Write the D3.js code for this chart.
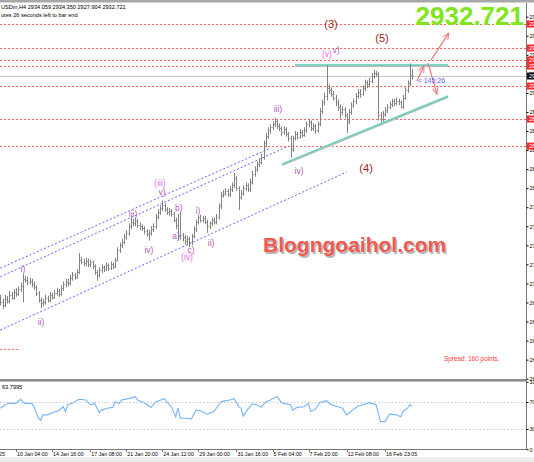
<!DOCTYPE html>
<html>
<head>
<meta charset="utf-8">
<script src="https://cdn.jsdelivr.net/npm/d3@7"></script>
<style>
body { margin: 0; background: #fff; }
svg { display: block; font-family: "Liberation Sans", Arial, sans-serif; }
</style>
</head>
<body>
<div id="chart"></div>
<script>
// H4 bars, oldest first
var opens = [2699,2696,2692,2699,2697,2703,2700,2706,2704,2709,
 2712,2720,2719,2716,2718,2714,2711,2705,2698,2694,
 2696,2700,2698,2703,2701,2705,2707,2704,2710,2714,
 2717,2715,2721,2724,2722,2727,2740,2738,2736,2739,
 2735,2737,2733,2727,2724,2729,2732,2730,2734,2731,
 2735,2733,2740,2750,2755,2759,2764,2768,2775,2780,
 2778,2781,2776,2775,2773,2770,2767,2768,2772,2775,
 2785,2790,2794,2797,2793,2790,2791,2788,2782,2776,
 2765,2766,2764,2760,2762,2758,2765,2772,2780,2785,
 2782,2784,2780,2775,2778,2782,2780,2785,2796,2808,
 2810,2812,2809,2814,2818,2826,2815,2806,2810,2815,
 2818,2814,2822,2830,2835,2840,2843,2848,2862,2870,
 2876,2879,2882,2885,2880,2878,2874,2877,2872,2868,
 2856,2868,2872,2869,2874,2871,2876,2882,2884,2878,
 2880,2876,2882,2896,2905,2912,2920,2918,2914,2910,
 2905,2900,2895,2898,2892,2885,2895,2902,2906,2912,
 2916,2914,2920,2926,2924,2928,2933,2936,2935,2892,
 2888,2893,2897,2900,2903,2906,2904,2907,2905,2900,
 2910,2918,2925,2934];
var highs = [2703,2699,2703,2702,2707,2706,2709,2710,2712,2716,
 2725,2723,2722,2721,2720,2717,2713,2707,2700,2699,
 2703,2702,2706,2705,2708,2710,2709,2713,2717,2720,
 2720,2724,2727,2726,2730,2747,2743,2741,2742,2741,
 2740,2739,2735,2729,2732,2735,2734,2737,2736,2738,
 2737,2742,2753,2758,2762,2767,2771,2778,2784,2783,
 2784,2783,2779,2777,2775,2772,2771,2775,2778,2788,
 2793,2797,2802,2799,2795,2794,2793,2790,2784,2788,
 2790,2768,2766,2765,2764,2767,2775,2782,2786,2787,
 2786,2786,2782,2780,2784,2784,2788,2799,2811,2813,
 2815,2814,2817,2821,2831,2828,2817,2813,2818,2821,
 2820,2825,2833,2838,2843,2846,2851,2865,2873,2879,
 2882,2885,2889,2887,2883,2880,2880,2879,2874,2870,
 2870,2875,2874,2877,2876,2879,2885,2888,2886,2883,
 2882,2885,2899,2908,2915,2944,2924,2921,2917,2913,
 2908,2903,2901,2900,2894,2898,2905,2909,2915,2919,
 2919,2923,2929,2928,2931,2936,2939,2938,2937,2895,
 2896,2900,2903,2906,2909,2909,2910,2909,2907,2913,
 2921,2928,2946,2940];
var lows = [2692,2688,2690,2694,2694,2698,2698,2701,2702,2706,
 2695,2716,2713,2714,2711,2708,2702,2695,2689,2691,
 2693,2695,2695,2698,2699,2702,2701,2702,2707,2711,
 2712,2713,2718,2719,2720,2725,2735,2733,2733,2732,
 2732,2730,2724,2718,2721,2726,2727,2728,2728,2729,
 2730,2731,2738,2747,2752,2756,2761,2765,2772,2775,
 2775,2773,2771,2770,2767,2764,2760,2765,2769,2772,
 2782,2787,2791,2790,2787,2786,2785,2779,2772,2760,
 2761,2759,2756,2755,2753,2755,2762,2769,2777,2779,
 2779,2777,2768,2772,2775,2777,2777,2782,2793,2805,
 2807,2806,2806,2811,2815,2812,2792,2803,2807,2812,
 2811,2811,2819,2827,2832,2837,2840,2845,2858,2867,
 2872,2876,2879,2877,2875,2870,2871,2869,2864,2847,
 2853,2865,2866,2867,2868,2869,2873,2879,2875,2875,
 2872,2873,2880,2893,2902,2907,2914,2911,2907,2901,
 2896,2888,2892,2889,2873,2882,2892,2899,2903,2909,
 2910,2912,2917,2920,2921,2925,2930,2932,2886,2884,
 2885,2890,2894,2898,2900,2901,2902,2902,2899,2898,
 2908,2915,2922,2929];
var closes = [2696,2692,2699,2697,2703,2700,2706,2704,2709,2712,
 2720,2719,2716,2718,2714,2711,2705,2698,2694,2696,
 2700,2698,2703,2701,2705,2707,2704,2710,2714,2717,
 2715,2721,2724,2722,2727,2740,2738,2736,2739,2735,
 2737,2733,2727,2724,2729,2732,2730,2734,2731,2735,
 2733,2740,2750,2755,2759,2764,2768,2775,2780,2778,
 2781,2776,2775,2773,2770,2767,2768,2772,2775,2785,
 2790,2794,2797,2793,2790,2791,2788,2782,2776,2765,
 2766,2764,2760,2762,2758,2765,2772,2780,2785,2782,
 2784,2780,2775,2778,2782,2780,2785,2796,2808,2810,
 2812,2809,2814,2818,2826,2815,2806,2810,2815,2818,
 2814,2822,2830,2835,2840,2843,2848,2862,2870,2876,
 2879,2882,2885,2880,2878,2874,2877,2872,2868,2856,
 2868,2872,2869,2874,2871,2876,2882,2884,2878,2880,
 2876,2882,2896,2905,2912,2920,2918,2914,2910,2905,
 2900,2895,2898,2892,2885,2895,2902,2906,2912,2916,
 2914,2920,2926,2924,2928,2933,2936,2935,2892,2888,
 2893,2897,2900,2903,2906,2904,2907,2905,2900,2910,
 2918,2925,2934,2932.721];

// RSI(14) read at selected bars
var rsiIdx = [0,2,4,7,9,10,11,14,15,17,18,19,21,23,26,28,29,30,32,35,38,40,42,44,45,48,50,51,53,54,
 57,60,61,64,67,69,73,74,76,78,79,80,82,85,87,89,92,95,98,100,102,104,106,107,108,110,112,114,116,118,
 120,123,125,126,129,130,132,135,137,138,140,142,145,147,150,152,154,157,159,161,164,167,169,171,173,176,178,179,181,182,183];
var rsiVals = [60.6,65.6,68,68,74,70.5,68,68,63,46,43,51,51,54,57,63,56,66,68,74,73,66,68,54,58,61,62,70,68,73,
 75,78,73,69,62,70,75,70,63,48,61,46,46,45,58,57,52,56,70,72,73,75,63,61,49,59,67,66,62,70,
 73,78,69,68,66,58,62,63,68,56,59,69,72,66,63,61,51,59,64,66,69,66,41,41,52,51,48,56,61,66,63.8];

// horizontal levels (price)
var levels = [2987.3, 2962.1, 2949.5, 2943.2, 2922.2, 2887.6, 2859.2];
var lastPrice = 2932.721;
var priceTicks = [2615,2635,2655,2675,2695,2715,2735,2755,2775,2795,2815,2835,2855,2875,2895,2915,2935,2955,2975,2995];

// time axis labels (bar index -> text)
var timeIdx = [-10, 7, 23, 40, 56, 72, 88, 105, 121, 137, 154, 171];
var timeText = ["8 Jan 2025","10 Jan 04:00","14 Jan 16:00","17 Jan 08:00","21 Jan 20:00","24 Jan 12:00",
 "29 Jan 00:00","31 Jan 16:00","5 Feb 04:00","7 Feb 20:00","12 Feb 08:00","16 Feb 23:05"];

// drawn objects: [idx0, price0, idx1, price1]
var channels = [[0, 2731, 120, 2857], [0, 2722, 127, 2858], [0, 2666, 154, 2832]];
var teal = [[125.2, 2840.3, 199, 2911.7], [131, 2944.3, 199, 2944.3]];
var arrows = [[185.2, 2927.5, 188.3, 2943.3], [191.4, 2949.5, 199.4, 2977.8], [190.1, 2946.4, 194.1, 2913.8]];

// wave counts: [idx, price, text, kind]
var waves = [
 [10.1, 2730, "i)", 0], [18.1, 2674.5, "ii)", 0], [59, 2787.8, "iii)", 0], [66.1, 2750, "iv)", 0],
 [71, 2820.4, "(iii)", 1], [71.9, 2810.9, "v)", 0], [79.4, 2794.1, "b)", 0], [78.1, 2764.7, "a)", 0],
 [84.8, 2750, "c)", 0], [83, 2742.7, "(iv)", 1], [87.9, 2791, "i)", 0], [93.7, 2757.4, "ii)", 0],
 [123.4, 2898.1, "iii)", 0], [132.8, 2833, "iv)", 0], [145.2, 2955.8, "(v)", 1], [149.2, 2960, "v)", 0],
 [147, 2987.3, "(3)", 2], [169.7, 2972.6, "(5)", 2], [162.6, 2836.1, "(4)", 2]
];
var waveColor = ["#b15bb3", "#e06ee0", "#992626"];

var W = 534, H = 462;
var plotR = 526;

var svg = d3.select("#chart").append("svg")
    .attr("width", W)
    .attr("height", H);

var x = d3.scaleLinear().domain([0, 183]).range([0.25, 0.25 + 183 * 2.25]);
var y = d3.scaleLinear().domain([2615, 2995]).range([378.7, 16.7]);
var yr = d3.scaleLinear().domain([0, 100]).range([449.25, 381.75]);

var defs = svg.append("defs");
defs.append("clipPath").attr("id", "clipMain")
    .append("rect").attr("x", 0).attr("y", 3).attr("width", plotR).attr("height", 376);
defs.append("clipPath").attr("id", "clipRsi")
    .append("rect").attr("x", 0).attr("y", 382).attr("width", plotR).attr("height", 67);
defs.append("marker").attr("id", "arr")
    .attr("viewBox", "0 0 10 10").attr("refX", 9).attr("refY", 5)
    .attr("markerWidth", 6).attr("markerHeight", 6).attr("orient", "auto")
    .append("path").attr("d", "M0,1 L9,5 L0,9").attr("fill", "none")
    .attr("stroke", "#ee7a78").attr("stroke-width", 1.4);

// frame
svg.append("rect").attr("x", 0).attr("y", 0).attr("width", W).attr("height", 2.5).attr("fill", "#a8a8a8");
svg.append("rect").attr("x", 0).attr("y", 379).attr("width", plotR + 1).attr("height", 2.6).attr("fill", "#8c8c8c");
svg.append("rect").attr("x", 0).attr("y", 457).attr("width", W).attr("height", 5).attr("fill", "#ececec");

var main = svg.append("g").attr("clip-path", "url(#clipMain)");

// support / resistance levels
main.selectAll(".lvl").data(levels).enter().append("line")
    .attr("x1", 0).attr("x2", plotR)
    .attr("y1", function (d) { return Math.round(y(d)) + 0.5; })
    .attr("y2", function (d) { return Math.round(y(d)) + 0.5; })
    .attr("stroke", "#ff6464").attr("stroke-dasharray", "2,2").attr("stroke-width", 1);
main.append("line")
    .attr("x1", x(0)).attr("x2", x(9))
    .attr("y1", Math.round(y(2646)) + 0.5).attr("y2", Math.round(y(2646)) + 0.5)
    .attr("stroke", "#ff6464").attr("stroke-dasharray", "2,2");

// bid line
main.append("line")
    .attr("x1", 0).attr("x2", plotR)
    .attr("y1", Math.round(y(lastPrice)) + 0.5).attr("y2", Math.round(y(lastPrice)) + 0.5)
    .attr("stroke", "#c8c8c8");

// channel lines
main.selectAll(".chan").data(channels).enter().append("line")
    .attr("x1", function (d) { return x(d[0]); })
    .attr("y1", function (d) { return y(d[1]); })
    .attr("x2", function (d) { return x(d[2]); })
    .attr("y2", function (d) { return y(d[3]); })
    .attr("stroke", "#6464ff").attr("stroke-dasharray", "2,2").attr("stroke-width", 1);

// trend lines
main.selectAll(".tealS").data(teal).enter().append("line")
    .attr("x1", function (d) { return x(d[0]); })
    .attr("y1", function (d) { return y(d[1]) + 0.8; })
    .attr("x2", function (d) { return x(d[2]); })
    .attr("y2", function (d) { return y(d[3]) + 0.8; })
    .attr("stroke", "#bdbdbd").attr("stroke-width", 2.4);
main.selectAll(".teal").data(teal).enter().append("line")
    .attr("x1", function (d) { return x(d[0]); })
    .attr("y1", function (d) { return y(d[1]); })
    .attr("x2", function (d) { return x(d[2]); })
    .attr("y2", function (d) { return y(d[3]); })
    .attr("stroke", "#66d3bf").attr("stroke-width", 1.5);

// OHLC bars
var bars = main.append("g").attr("stroke", "#828282").attr("stroke-width", 1);
closes.forEach(function (c, i) {
    var bx = Math.round(x(i)) + 0.5;
    bars.append("line").attr("x1", bx).attr("x2", bx)
        .attr("y1", y(highs[i])).attr("y2", y(lows[i]));
    bars.append("line").attr("x1", bx - 1).attr("x2", bx)
        .attr("y1", Math.round(y(opens[i])) + 0.5).attr("y2", Math.round(y(opens[i])) + 0.5);
    bars.append("line").attr("x1", bx).attr("x2", bx + 1)
        .attr("y1", Math.round(y(c)) + 0.5).attr("y2", Math.round(y(c)) + 0.5);
});

// arrows
main.selectAll(".arr").data(arrows).enter().append("line")
    .attr("x1", function (d) { return x(d[0]); })
    .attr("y1", function (d) { return y(d[1]); })
    .attr("x2", function (d) { return x(d[2]); })
    .attr("y2", function (d) { return y(d[3]); })
    .attr("stroke", "#ee7a78").attr("stroke-width", 1.2)
    .attr("marker-end", "url(#arr)");

// wave labels
main.selectAll(".wave").data(waves).enter().append("text")
    .attr("x", function (d) { return x(d[0]); })
    .attr("y", function (d) { return y(d[1]); })
    .attr("dy", "0.35em")
    .attr("text-anchor", "middle")
    .style("font-size", function (d) { return d[3] === 2 ? "11px" : "8.5px"; })
    .style("fill", function (d) { return waveColor[d[3]]; })
    .text(function (d) { return d[2]; });

// bar countdown
main.append("text")
    .attr("x", x(185.5)).attr("y", y(2928.5)).attr("dy", "0.35em")
    .style("font-size", "7px").style("fill", "#5b5bff")
    .text("< 145:26");

// watermark
main.append("text").attr("x", 264.5).attr("y", 253.5)
    .style("font-size", "21px").style("font-weight", "bold").style("fill", "#9a9a9a").style("opacity", 0.7)
    .text("Blogngoaihol.com");
main.append("text").attr("x", 263).attr("y", 252)
    .style("font-size", "21px").style("font-weight", "bold").style("fill", "#f25a4f")
    .text("Blogngoaihol.com");

main.append("text").attr("x", 444).attr("y", 361)
    .style("font-size", "6.4px").style("fill", "#ff3b3b")
    .text("Spread: 160 points.");

// header
svg.append("text").attr("x", 1).attr("y", 9).style("font-size", "5.6px").style("fill", "#000")
    .text("USDm,H4  2934.059 2934.350 2927.904 2932.721");
svg.append("text").attr("x", 1).attr("y", 17).style("font-size", "5.6px").style("fill", "#000")
    .text("utes 26 seconds left to bar end");

svg.append("text").attr("x", 524).attr("y", 24.5).attr("text-anchor", "end")
    .style("font-size", "26px").style("font-weight", "bold").style("fill", "#7ee61a")
    .text(d3.format(".3f")(lastPrice));

// price axis
var yAxis = svg.append("g").attr("transform", "translate(" + (plotR + 0.5) + ",0)")
    .call(d3.axisRight(y).tickValues(priceTicks).tickSize(2).tickFormat(d3.format(".2f")));
yAxis.select(".domain").attr("stroke", "#777").attr("d", "M0,3V379");
yAxis.selectAll("text").style("font-size", "5.5px").attr("x", 3);

svg.selectAll(".lvlBox").data(levels).enter().append("rect")
    .attr("x", plotR + 1).attr("y", function (d) { return y(d) - 3.5; })
    .attr("width", 8).attr("height", 7).attr("fill", "#ff2a2a");
svg.selectAll(".lvlTxt").data(levels).enter().append("text")
    .attr("x", plotR + 3).attr("y", function (d) { return y(d); }).attr("dy", "0.35em")
    .style("font-size", "5.5px").style("fill", "#fff")
    .text(function (d) { return d3.format(".2f")(d); });
svg.append("rect").attr("x", plotR + 1).attr("y", y(lastPrice) - 3.5)
    .attr("width", 8).attr("height", 7).attr("fill", "#111");
svg.append("text").attr("x", plotR + 3).attr("y", y(lastPrice)).attr("dy", "0.35em")
    .style("font-size", "5.5px").style("fill", "#fff").text(d3.format(".2f")(lastPrice));

// RSI panel
var rsiG = svg.append("g").attr("clip-path", "url(#clipRsi)");
rsiG.selectAll(".rl").data([70, 30]).enter().append("line")
    .attr("x1", 0).attr("x2", plotR)
    .attr("y1", function (d) { return Math.round(yr(d)) + 0.5; })
    .attr("y2", function (d) { return Math.round(yr(d)) + 0.5; })
    .attr("stroke", "#c8c8c8").attr("stroke-dasharray", "1.5,2");
var rsiLine = d3.line()
    .x(function (d, k) { return x(rsiIdx[k]); })
    .y(function (d) { return yr(d); });
rsiG.append("path").datum(rsiVals).attr("d", rsiLine)
    .attr("fill", "none").attr("stroke", "#74b4ff").attr("stroke-width", 1.1);
svg.append("text").attr("x", 2).attr("y", 389).style("font-size", "5.6px").style("fill", "#000")
    .text(d3.format(".4f")(rsiVals[rsiVals.length - 1] - 0.0005));

var rAxis = svg.append("g").attr("transform", "translate(" + (plotR + 0.5) + ",0)")
    .call(d3.axisRight(yr).tickValues([100, 70, 30, 0]).tickSize(2));
rAxis.select(".domain").attr("stroke", "#777").attr("d", "M0,382V449");
rAxis.selectAll("text").style("font-size", "5.5px").attr("x", 3);
svg.append("line").attr("x1", 0).attr("x2", plotR + 1).attr("y1", 449.5).attr("y2", 449.5).attr("stroke", "#777");

// time axis
var tG = svg.append("g");
tG.selectAll("line").data(timeIdx).enter().append("line")
    .attr("x1", function (d) { return Math.round(x(d)) + 0.5; })
    .attr("x2", function (d) { return Math.round(x(d)) + 0.5; })
    .attr("y1", 450).attr("y2", 452).attr("stroke", "#777");
tG.selectAll("text").data(timeIdx).enter().append("text")
    .attr("x", function (d) { return x(d) + 1; })
    .attr("y", 456)
    .style("font-size", "5.3px").style("fill", "#000")
    .text(function (d, k) { return timeText[k]; });
</script>
</body>
</html>
